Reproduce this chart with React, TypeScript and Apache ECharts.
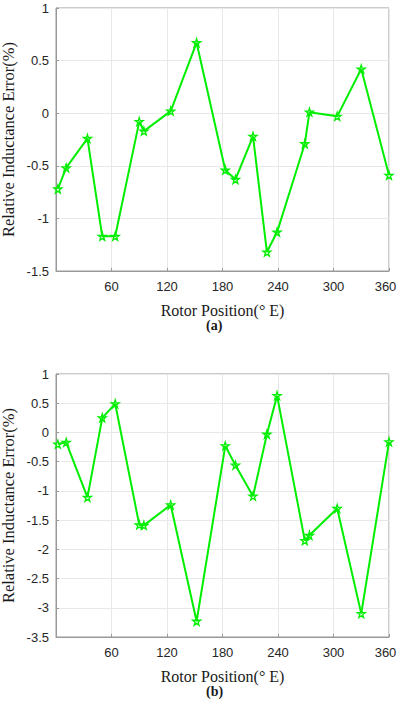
import React, { useEffect, useRef } from "react";
import * as echarts from "echarts";

const positions = [2, 11, 34, 50, 64, 90, 95, 124, 152, 183, 194, 213, 228, 239, 269, 274, 304, 330, 360];
const errorA = [-0.72, -0.52, -0.24, -1.17, -1.17, -0.08, -0.17, 0.02, 0.67, -0.54, -0.63, -0.22, -1.32, -1.13, -0.29, 0.01, -0.03, 0.42, -0.59];
const errorB = [-0.2, -0.17, -1.11, 0.25, 0.49, -1.58, -1.59, -1.24, -3.23, -0.23, -0.56, -1.09, -0.03, 0.63, -1.85, -1.76, -1.3, -3.1, -0.16];
const xTicks = [60, 120, 180, 240, 300, 360];
const captions = ["(a)", "(b)"];
const yLabel = "Relative Inductance Error(%)";
const xLabel = "Rotor Position(° E)";

const STAR = "path://M50,2 L61,37 L98,37 L68,59 L79,94 L50,73 L21,94 L32,59 L2,37 L39,37 Z";

export default function App() {
  const ref = useRef<HTMLDivElement>(null);
  useEffect(() => {
    if (!ref.current) return;
    const chart = echarts.init(ref.current, undefined, { renderer: "svg" });
    const grids = [
      { left: 56, top: 8, width: 333, height: 263 },
      { left: 56, top: 374, width: 333, height: 263 },
    ];
    const yRanges = [
      { min: -1.5, max: 1 },
      { min: -3.5, max: 1 },
    ];
    const datasets = [errorA, errorB];
    const serif = "Liberation Serif";
    const sans = "Liberation Sans";
    const xAxis: any[] = [];
    const yAxis: any[] = [];
    const series: any[] = [];
    const lastTick = xTicks[xTicks.length - 1];
    grids.forEach((g, i) => {
      xAxis.push({
        type: "value",
        gridIndex: i,
        min: 0,
        max: 360,
        interval: 60,
        axisLine: { show: true, onZero: false, lineStyle: { color: "#999999", width: 1 } },
        axisTick: { show: true, inside: true, length: 3, lineStyle: { color: "#999999" } },
        axisLabel: {
          color: "#262626",
          fontFamily: sans,
          fontSize: 13,
          margin: 9,
          formatter: (v: number) =>
            v === lastTick ? `{edge|${v}}` : xTicks.includes(v) ? String(v) : "",
          rich: {
            edge: { fontFamily: sans, fontSize: 13, color: "#262626", padding: [0, 7, 0, 0] },
          },
        },
        splitLine: { show: true, lineStyle: { color: "#e8e8e8", width: 1 } },
        name: xLabel,
        nameLocation: "middle",
        nameGap: 31,
        nameMoveOverlap: false,
        nameTextStyle: { fontFamily: serif, fontSize: 16, color: "#1a1a1a" },
      });
      yAxis.push({
        type: "value",
        gridIndex: i,
        min: yRanges[i].min,
        max: yRanges[i].max,
        interval: 0.5,
        axisLine: { show: true, onZero: false, lineStyle: { color: "#999999", width: 1 } },
        axisTick: { show: true, inside: true, length: 3, lineStyle: { color: "#999999" } },
        axisLabel: {
          color: "#262626",
          fontFamily: sans,
          fontSize: 13,
          margin: 7,
          formatter: (v: number) => String(v),
        },
        splitLine: { show: true, lineStyle: { color: "#e8e8e8", width: 1 } },
        name: yLabel,
        nameLocation: "middle",
        nameGap: 39,
        nameMoveOverlap: false,
        nameTextStyle: { fontFamily: serif, fontSize: 16.5, color: "#1a1a1a" },
      });
      series.push({
        type: "line",
        xAxisIndex: i,
        yAxisIndex: i,
        data: positions.map((p, k) => [p, datasets[i][k]]),
        symbol: STAR,
        symbolSize: 8,
        showSymbol: true,
        lineStyle: { color: "#00ee00", width: 2 },
        itemStyle: { color: "rgba(255,255,255,0)", borderColor: "#00ee00", borderWidth: 1.3 },
        z: 3,
      });
    });
    chart.setOption({
      animation: false,
      backgroundColor: "#ffffff",
      grid: grids.map((g) => ({
        ...g,
        containLabel: false,
        outerBoundsMode: "none",
        show: true,
        borderColor: "#999999",
        borderWidth: 1,
        backgroundColor: "transparent",
      })),
      xAxis,
      yAxis,
      series,
      graphic: [
        {
          type: "text",
          left: 206,
          top: 318,
          style: { text: captions[0], font: `bold 14px "${serif}"`, fill: "#1a1a1a" },
        },
        {
          type: "text",
          left: 206,
          top: 684,
          style: { text: captions[1], font: `bold 14px "${serif}"`, fill: "#1a1a1a" },
        },
      ],
    });
    return () => chart.dispose();
  }, []);
  return (
    <div
      ref={ref}
      style={{ position: "fixed", left: 0, top: 0, width: 397, height: 703, background: "#fff" }}
    />
  );
}
